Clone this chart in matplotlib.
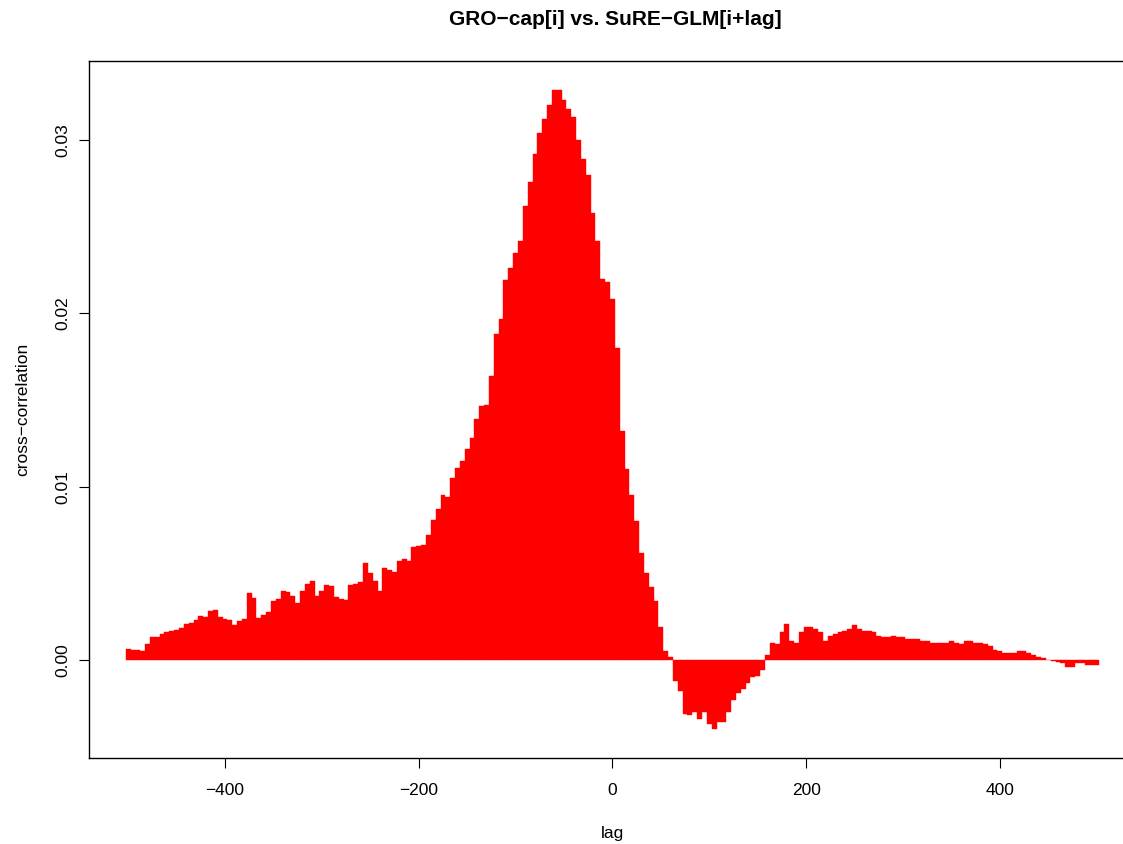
import numpy as np
import matplotlib
matplotlib.use('Agg')
from matplotlib import pyplot as plt

# lag axis, one value every 5 lags
lags = np.arange(-500, 501, 5)

xcorr = [
    0.00065, 0.00060, 0.00058, 0.00052, 0.00090, 0.00130, 0.00135, 0.00150, 0.00160, 0.00168,   # -500 .. -455
    0.00173, 0.00185, 0.00210, 0.00215, 0.00228, 0.00254, 0.00250, 0.00285, 0.00290, 0.00250,   # -450 .. -405
    0.00235, 0.00228, 0.00200, 0.00225, 0.00235, 0.00385, 0.00360, 0.00240, 0.00260, 0.00275,   # -400 .. -355
    0.00340, 0.00350, 0.00400, 0.00395, 0.00370, 0.00330, 0.00400, 0.00440, 0.00455, 0.00370,   # -350 .. -305
    0.00400, 0.00430, 0.00425, 0.00365, 0.00350, 0.00345, 0.00430, 0.00440, 0.00450, 0.00560,   # -300 .. -255
    0.00500, 0.00455, 0.00400, 0.00530, 0.00520, 0.00510, 0.00570, 0.00585, 0.00570, 0.00650,   # -250 .. -205
    0.00660, 0.00665, 0.00720, 0.00810, 0.00870, 0.00950, 0.00940, 0.01050, 0.01110, 0.01150,   # -200 .. -155
    0.01220, 0.01280, 0.01390, 0.01465, 0.01470, 0.01640, 0.01880, 0.01970, 0.02190, 0.02260,   # -150 .. -105
    0.02350, 0.02420, 0.02620, 0.02760, 0.02920, 0.03040, 0.03120, 0.03200, 0.03290, 0.03290,   # -100 .. -55
    0.03230, 0.03180, 0.03130, 0.03000, 0.02890, 0.02800, 0.02580, 0.02420, 0.02200, 0.02180,   # -50 .. -5
    0.02080, 0.01800, 0.01320, 0.01100, 0.00950, 0.00800, 0.00620, 0.00500, 0.00420, 0.00340,   # 0 .. 45
    0.00190, 0.00050, 0.00020, -0.00120, -0.00180, -0.00310, -0.00320, -0.00300, -0.00340, -0.00300,  # 50 .. 95
    -0.00370, -0.00400, -0.00360, -0.00360, -0.00300, -0.00230, -0.00190, -0.00170, -0.00130, -0.00100,  # 100 .. 145
    -0.00090, -0.00060, 0.00030, 0.00100, 0.00090, 0.00160, 0.00210, 0.00110, 0.00100, 0.00160,   # 150 .. 195
    0.00190, 0.00190, 0.00180, 0.00160, 0.00110, 0.00140, 0.00150, 0.00160, 0.00170, 0.00180,   # 200 .. 245
    0.00200, 0.00180, 0.00170, 0.00170, 0.00160, 0.00140, 0.00130, 0.00130, 0.00140, 0.00130,   # 250 .. 295
    0.00130, 0.00120, 0.00120, 0.00120, 0.00110, 0.00110, 0.00100, 0.00100, 0.00100, 0.00100,   # 300 .. 345
    0.00110, 0.00100, 0.00090, 0.00110, 0.00110, 0.00100, 0.00100, 0.00090, 0.00080, 0.00060,   # 350 .. 395
    0.00050, 0.00040, 0.00040, 0.00040, 0.00050, 0.00050, 0.00040, 0.00030, 0.00020, 0.00010,   # 400 .. 445
    0.00002, -0.00004, -0.00010, -0.00020, -0.00040, -0.00040, -0.00020, -0.00020, -0.00030, -0.00030,  # 450 .. 495
    -0.00030,                                                                                   # 500
]

xticks = [-400, -200, 0, 200, 400]
yticks = [0.00, 0.01, 0.02, 0.03]

plt.rcParams['font.family'] = ['Liberation Sans', 'DejaVu Sans']

fig = plt.figure(figsize=(11.23, 8.44), dpi=100)
ax = fig.add_axes([0.0796, 0.1019, 0.9315, 0.8262])

ax.bar(lags, xcorr, width=5, color='red', edgecolor='red', linewidth=0.3)

ax.set_xlim(-540, 540)
ax.set_ylim(-0.005654, 0.034576)
ax.set_xticks(xticks)
ax.set_xticklabels([str(t).replace('-', '\u2212') for t in xticks])
ax.set_yticks(yticks)
ax.set_yticklabels(['%.2f' % t for t in yticks], rotation=90, va='center')

ax.tick_params(direction='out', length=7, width=0.8, labelsize=12.5)
ax.tick_params(axis='x', pad=11)
ax.tick_params(axis='y', pad=7)
for s in ax.spines.values():
    s.set_linewidth(1.0)

ax.set_xlabel('lag', fontsize=12.5, labelpad=20)
ax.set_ylabel('cross\u2212correlation', fontsize=12.5, labelpad=18)
fig.text(0.5475, 0.977, 'GRO\u2212cap[i] vs. SuRE\u2212GLM[i+lag]', ha='center', va='center',
         fontsize=15, fontweight='bold')

fig.savefig('out.png', dpi=100)
